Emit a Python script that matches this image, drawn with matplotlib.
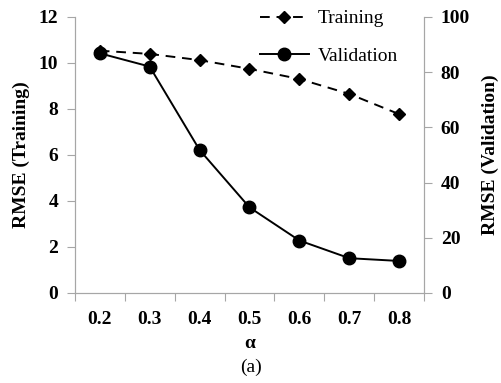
import matplotlib.pyplot as plt

plt.rcParams['font.family'] = ['Liberation Serif', 'DejaVu Serif']

alpha = ['0.2', '0.3', '0.4', '0.5', '0.6', '0.7', '0.8']
rmse_train = [10.53, 10.39, 10.12, 9.74, 9.30, 8.65, 7.77]
rmse_val = [86.8, 82.0, 51.8, 31.0, 19.0, 12.6, 11.6]

grey = '#a6a6a6'
fs = 14
fig = plt.figure(figsize=(5.02, 3.83), dpi=100)
ax1 = fig.add_axes([0.149, 0.235, 0.696, 0.721])
ax2 = ax1.twinx()

x = list(range(len(alpha)))
l1, = ax1.plot(x, rmse_train, color='black', linestyle=(0, (5, 3.5)), linewidth=1.4,
               marker='D', markersize=6, label='Training')
l2, = ax2.plot(x, rmse_val, color='black', linestyle='-', linewidth=1.4,
               marker='o', markersize=9, label='Validation')

ax1.set_xlim(-0.5, len(alpha) - 0.5)
ax1.set_ylim(0, 12)
ax2.set_ylim(0, 100)
ax1.set_yticks(range(0, 13, 2))
ax2.set_yticks(range(0, 101, 20))

# category axis: ticks on boundaries, labels in between
ax1.set_xticks([i - 0.5 for i in range(len(alpha) + 1)])
ax1.set_xticklabels([])
ax1.set_xticks(x, minor=True)
ax1.set_xticklabels(alpha, minor=True, fontweight='bold', fontsize=fs)
ax1.tick_params(axis='x', which='minor', length=0, pad=13)
ax1.tick_params(axis='x', which='major', length=6, color=grey, direction='out')

for ax in (ax1, ax2):
    ax.spines['top'].set_visible(False)
    for s in ('left', 'right', 'bottom'):
        ax.spines[s].set_color(grey)
    ax.tick_params(axis='y', length=6, color=grey, direction='out', labelsize=fs, pad=6)
    for lab in ax.get_yticklabels():
        lab.set_fontweight('bold')

ax1.set_ylabel('RMSE (Training)', fontweight='bold', fontsize=fs, labelpad=6)
ax2.set_ylabel('RMSE (Validation)', fontweight='bold', fontsize=fs, labelpad=8)
ax1.set_xlabel('α', fontweight='bold', fontsize=fs, labelpad=5)

fig.text(0.5, 0.04, '(a)', ha='center', va='center', fontsize=fs)

fig.legend(handles=[l1, l2], loc='upper left', bbox_to_anchor=(0.483, 1.02),
           frameon=False, fontsize=fs, handlelength=2.5, labelspacing=1.0,
           handletextpad=0.45)

fig.savefig('out.png', dpi=100)
